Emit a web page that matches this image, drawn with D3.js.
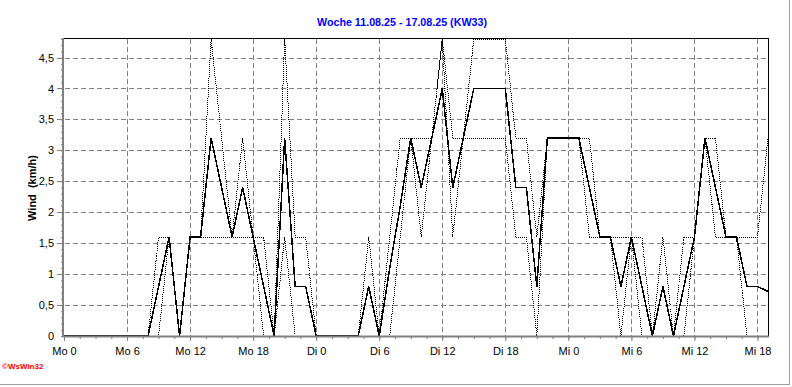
<!DOCTYPE html>
<html><head><meta charset="utf-8">
<script src="https://cdn.jsdelivr.net/npm/d3@7"></script>
<style>
body{margin:0;background:#fff}
svg{display:block}
text{font-family:"Liberation Sans",Arial,sans-serif}
</style>
</head><body><svg id="c" width="792" height="387"></svg>
<script>
const titleText = "Woche 11.08.25 - 17.08.25 (KW33)";
const yTitleText = "Wind  (km/h)";
const logoText = "\u00A9WsWin32";

const hours = [0,1,2,3,4,5,6,7,8,9,10,11,12,13,14,15,16,17,18,19,20,21,22,23,
  24,25,26,27,28,29,30,31,32,33,34,35,36,37,38,39,40,41,42,43,44,45,46,47,
  48,49,50,51,52,53,54,55,56,57,58,59,60,61,62,63,64,65,66,67];

const avgWind = [0,0,0,0,0,0,0,0, 0,0.8,1.6,0,1.6,1.6,3.2,2.4,
  1.6,2.4,1.6,0.8,0,3.2,0.8,0.8, 0,0,0,0,0,0.8,0,1.1,
  2.1,3.2,2.4,3.2,4.0,2.4,3.2,4.0, 4.0,4.0,4.0,2.4,2.4,0.8,3.2,3.2,
  3.2,3.2,2.4,1.6,1.6,0.8,1.6,0.8, 0,0.8,0,0.8,1.6,3.2,2.4,1.6,
  1.6,0.8,0.8,0.72];

const gustA = [0,0,0,0,0,0,0,0, 0,1.6,1.6,0,1.6,1.6,4.8,3.2,
  1.6,3.2,1.6,0,0,4.8,1.6,1.6, 0,0,0,0,0,0,0,0,
  1.6,3.2,1.6,3.2,4.8,1.6,3.2,4.8, 4.8,4.8,4.8,3.2,3.2,1.6,3.2,3.2,
  3.2,3.2,3.2,1.6,1.6,0,1.6,0, 0,1.6,0,0,1.6,3.2,3.2,1.6,
  1.6,1.6,1.6,3.2];

const gustB = [0,0,0,0,0,0,0,0, 0,0,1.6,0,1.6,1.6,1.6,1.6,
  1.6,1.6,1.6,1.6,0,1.6,0,0, 0,0,0,0,0,1.6,0,1.6,
  3.2,3.2,3.2,3.2,4.8,3.2,3.2,3.2, 3.2,3.2,3.2,1.6,1.6,0,3.2,3.2,
  3.2,3.2,1.6,1.6,1.6,1.6,1.6,1.6, 0,0,0,1.6,1.6,3.2,1.6,1.6,
  1.6,0,0,0];

const xTickHours = [0,6,12,18,24,30,36,42,48,54,60,66];
const xTickLabels = ["Mo 0","Mo 6","Mo 12","Mo 18","Di 0","Di 6","Di 12","Di 18","Mi 0","Mi 6","Mi 12","Mi 18"];
const yTickValues = [0,0.5,1,1.5,2,2.5,3,3.5,4,4.5];
const yTickLabels = ["0","0,5","1","1,5","2","2,5","3","3,5","4","4,5"];

const svg = d3.select("#c");
const L = 64, R = 768, T = 39, B = 336;
const x = d3.scaleLinear().domain([0, 67]).range([L, R]);
const y = d3.scaleLinear().domain([0, 4.8]).range([B, T]);

// outer frame
svg.append("rect").attr("x", -1.5).attr("y", -1.5).attr("width", 791).attr("height", 386)
  .attr("fill", "none").attr("stroke", "#a0a0a0").attr("stroke-width", 1);

// title
svg.append("text").attr("x", 402).attr("y", 26).attr("text-anchor", "middle")
  .attr("fill", "#0000ff").attr("font-weight", "bold").attr("font-size", 11)
  .attr("textLength", 170).attr("lengthAdjust", "spacingAndGlyphs")
  .text(titleText);

// grid
const grid = svg.append("g").attr("shape-rendering", "crispEdges");
grid.selectAll(".hg").data(yTickValues.filter(v => v > 0)).join("line")
  .attr("x1", L - 7).attr("x2", R).attr("y1", d => Math.round(y(d)) + 0.5).attr("y2", d => Math.round(y(d)) + 0.5)
  .attr("stroke", "#808080").attr("stroke-dasharray", "5,3");
grid.selectAll(".vg").data(xTickHours.filter(v => v > 0)).join("line")
  .attr("y1", T).attr("y2", B).attr("x1", d => Math.round(x(d)) + 0.5).attr("x2", d => Math.round(x(d)) + 0.5)
  .attr("stroke", "#808080").attr("stroke-dasharray", "5,3");

// plot border top/right
svg.append("line").attr("x1", L).attr("x2", R + 0.5).attr("y1", T - 0.5).attr("y2", T - 0.5)
  .attr("stroke", "#000").attr("shape-rendering", "crispEdges");
svg.append("line").attr("x1", R + 0.5).attr("x2", R + 0.5).attr("y1", T - 0.5).attr("y2", B)
  .attr("stroke", "#000").attr("shape-rendering", "crispEdges");

// data lines
const line = d3.line().x((d, i) => x(hours[i])).y(d => y(d));
const dl = svg.append("g").attr("shape-rendering", "crispEdges");
dl.append("path").datum(gustB).attr("d", line).attr("fill", "none").attr("stroke", "#000")
  .attr("stroke-width", 1).attr("stroke-dasharray", "1,1");
dl.append("path").datum(gustA).attr("d", line).attr("fill", "none").attr("stroke", "#000")
  .attr("stroke-width", 1).attr("stroke-dasharray", "1,1");
dl.append("path").datum(avgWind).attr("d", line).attr("fill", "none").attr("stroke", "#000")
  .attr("stroke-width", 1.5);

// x axis minor
const xMinor = svg.append("g").attr("transform", `translate(0,${B})`)
  .call(d3.axisBottom(x).tickValues(d3.range(0, 67, 1.5)).tickSize(3).tickFormat(""));
xMinor.select(".domain").remove();
xMinor.selectAll("line").attr("stroke", "#808080");
// x axis major
const xAx = svg.append("g").attr("transform", `translate(0,${B})`)
  .call(d3.axisBottom(x).tickValues(xTickHours).tickSize(5).tickPadding(6)
    .tickFormat((d, i) => xTickLabels[i]));
xAx.select(".domain").attr("stroke", "#808080").attr("stroke-width", 2).attr("d", `M${L - 1},0.5H${R + 1}`);
xAx.selectAll("line").attr("stroke", "#808080");
xAx.selectAll("text").attr("font-size", 11).attr("fill", "#000")
  .attr("font-family", "'Liberation Sans',Arial,sans-serif");

// y axis minor
const yMinor = svg.append("g").attr("transform", `translate(${L - 1},0)`)
  .call(d3.axisLeft(y).tickValues(y.ticks(48)).tickSize(2).tickFormat(""));
yMinor.select(".domain").remove();
yMinor.selectAll("line").attr("stroke", "#808080");
// y axis major
const yAx = svg.append("g").attr("transform", `translate(${L - 1},0)`)
  .call(d3.axisLeft(y).tickValues(yTickValues).tickSize(0).tickPadding(9)
    .tickFormat((d, i) => yTickLabels[i]));
yAx.select(".domain").attr("stroke", "#808080").attr("stroke-width", 2).attr("d", `M0,${T - 1}V${B + 1}`);
yAx.selectAll("text").attr("font-size", 11).attr("fill", "#000")
  .attr("font-family", "'Liberation Sans',Arial,sans-serif");

// y title
svg.append("text").attr("transform", "translate(36,188) rotate(-90)")
  .attr("text-anchor", "middle").attr("font-weight", "bold").attr("font-size", 11)
  .attr("xml:space", "preserve").style("white-space", "pre")
  .text(yTitleText);

// logo
svg.append("text").attr("x", 2).attr("y", 369).attr("fill", "#ff0000")
  .attr("font-weight", "bold").attr("font-size", 8).text(logoText);
</script>
</body></html>
